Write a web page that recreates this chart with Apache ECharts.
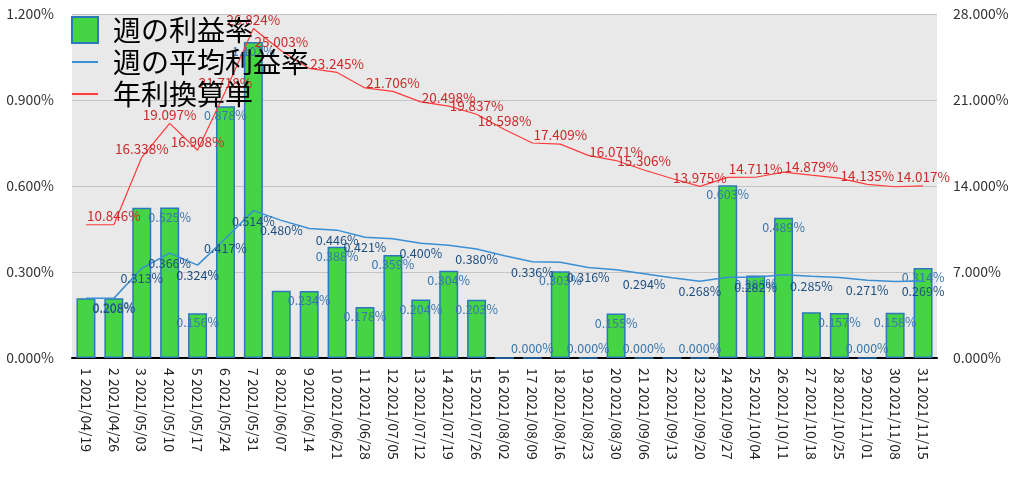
<!DOCTYPE html>
<html><head><meta charset="utf-8">
<script src="https://cdn.jsdelivr.net/npm/echarts@6/dist/echarts.min.js"></script>
<style>html,body{margin:0;padding:0;background:#fff}#c{width:1024px;height:477px}</style>
</head><body><div id="c"></div>
<script>
const weekNumbers = [1,2,3,4,5,6,7,8,9,10,11,12,13,14,15,16,17,18,19,20,21,22,23,24,25,26,27,28,29,30,31];
const weekDates = ['2021/04/19','2021/04/26','2021/05/03','2021/05/10','2021/05/17','2021/05/24','2021/05/31','2021/06/07','2021/06/14','2021/06/21','2021/06/28','2021/07/05','2021/07/12','2021/07/19','2021/07/26','2021/08/02','2021/08/09','2021/08/16','2021/08/23','2021/08/30','2021/09/06','2021/09/13','2021/09/20','2021/09/27','2021/10/04','2021/10/11','2021/10/18','2021/10/25','2021/11/01','2021/11/08','2021/11/15'];
// 週の利益率 (%)
const weeklyReturn = [0.208,0.208,0.524,0.525,0.156,0.878,1.102,0.235,0.234,0.388,0.178,0.359,0.204,0.304,0.203,0.000,0.000,0.303,0.000,0.155,0.000,0.000,0.000,0.603,0.288,0.489,0.160,0.157,0.000,0.158,0.314];
// 週の平均利益率 (%)
const averageReturn = [0.208,0.208,0.313,0.366,0.324,0.417,0.514,0.480,0.452,0.446,0.421,0.416,0.400,0.393,0.380,0.357,0.336,0.334,0.316,0.308,0.294,0.280,0.268,0.282,0.282,0.290,0.285,0.281,0.271,0.267,0.269];
// 年利換算単 (%)
const annualized = [10.846,10.846,16.338,19.097,16.908,21.718,26.824,25.003,23.580,23.245,21.980,21.706,20.850,20.498,19.837,18.598,17.500,17.409,16.490,16.071,15.306,14.610,13.975,14.700,14.711,15.130,14.879,14.640,14.135,13.940,14.017];
const leftTicks = [0, 0.3, 0.6, 0.9, 1.2];
const rightTicks = [0, 7, 14, 21, 28];
// week numbers whose value labels are hidden (overlap) in the original
const barLabelHidden = [1,3,8,16,22,27];
const avgLabelHidden = [1,9,12,14,16,18,20,22,24,26,28,30];
const annualLabelHidden = [1,9,11,13,17,19,22,24,26,28,30];

const categories = weekNumbers.map((n, i) => n + ' ' + weekDates[i]);
const pct = v => v.toFixed(3) + '%';
const FONT = '"Noto Sans CJK JP","Noto Sans",sans-serif';

const barData = weeklyReturn.map((v, i) => ({
  value: v,
  label: {show: !barLabelHidden.includes(weekNumbers[i]), position: v === 0 ? 'top' : 'insideTop'}
}));
const avgData = averageReturn.map((v, i) => ({
  value: v, label: {show: !avgLabelHidden.includes(weekNumbers[i])}
}));
const annData = annualized.map((v, i) => ({
  value: v, label: {show: !annualLabelHidden.includes(weekNumbers[i])}
}));

const chart = echarts.init(document.getElementById('c'), null, {renderer: 'canvas'});
chart.setOption({
  animation: false,
  textStyle: {fontFamily: FONT},
  grid: {left: 72, right: 87, top: 14, bottom: 119, show: true, backgroundColor: '#e9e9e9', borderWidth: 0},
  legend: {
    orient: 'vertical', left: 66, top: 11, itemWidth: 26, itemHeight: 26, itemGap: 4,
    textStyle: {fontSize: 28, color: '#000', fontFamily: FONT, padding: [0,0,0,10]},
    data: [
      {name: '週の利益率', icon: 'rect'},
      {name: '週の平均利益率', itemStyle: {color: 'rgba(0,0,0,0)', borderWidth: 0}},
      {name: '年利換算単', itemStyle: {color: 'rgba(0,0,0,0)', borderWidth: 0}}
    ]
  },
  xAxis: {
    type: 'category', data: categories,
    axisLine: {lineStyle: {color: '#000', width: 2}},
    axisTick: {show: false},
    axisLabel: {rotate: -90, interval: 0, fontSize: 14, color: '#222', margin: 10, fontFamily: FONT}
  },
  yAxis: [
    {type: 'value', min: leftTicks[0], max: leftTicks[leftTicks.length-1], interval: 0.3,
     axisLabel: {formatter: pct, fontSize: 14, color: '#333', margin: 18},
     splitLine: {lineStyle: {color: '#c4c4c4', width: 1}}, axisLine: {show: false}, axisTick: {show: false}},
    {type: 'value', min: rightTicks[0], max: rightTicks[rightTicks.length-1], interval: 7,
     axisLabel: {formatter: pct, fontSize: 14, color: '#333', margin: 16},
     splitLine: {show: false}, axisLine: {show: false}, axisTick: {show: false}}
  ],
  series: [
    {name: '週の利益率', type: 'bar', data: barData, barWidth: '68%', yAxisIndex: 0,
     itemStyle: {color: '#45d443', borderColor: '#2b78bd', borderWidth: 1.5},
     label: {show: true, formatter: p => pct(p.value), fontSize: 12.5, color: '#3a76ad', distance: 3}},
    {name: '週の平均利益率', type: 'line', data: avgData, yAxisIndex: 0, symbol: 'circle', symbolSize: 0, showSymbol: true,
     lineStyle: {color: '#3a8fd4', width: 1.5}, itemStyle: {color: '#3a8fd4'},
     label: {show: true, formatter: p => pct(p.value), position: 'bottom', distance: 4, fontSize: 12.5, color: '#1f4f80'}},
    {name: '年利換算単', type: 'line', data: annData, yAxisIndex: 1, symbol: 'circle', symbolSize: 0, showSymbol: true,
     lineStyle: {color: '#ff3b3b', width: 1.2}, itemStyle: {color: '#ff3b3b'},
     label: {show: true, formatter: p => pct(p.value), position: 'top', distance: 2, fontSize: 13.5, color: '#cc2a2a'}}
  ]
});
</script></body></html>
